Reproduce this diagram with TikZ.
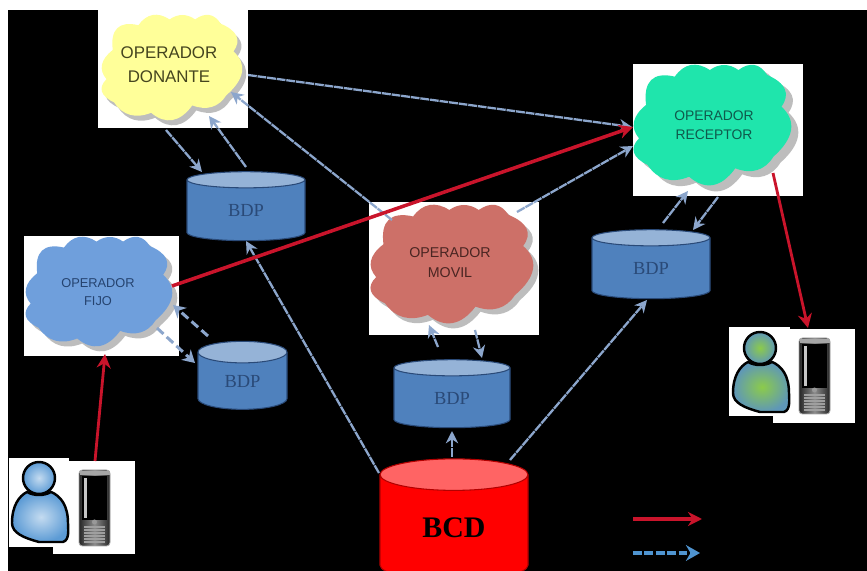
\documentclass[tikz,border=0pt]{standalone}
\usepackage{fontspec}
\setmainfont{Liberation Serif}
\newfontfamily\labelsans{Liberation Sans}
\usetikzlibrary{shapes.geometric,arrows.meta}
\definecolor{linkblue}{HTML}{8CA6CC}
\definecolor{legendblue}{HTML}{4F94D0}
\definecolor{redline}{HTML}{C9142B}
\definecolor{bdpbody}{HTML}{4F81BD}
\definecolor{bdptop}{HTML}{95B3D7}
\definecolor{bdpline}{HTML}{2A4A78}
\definecolor{bcdtop}{HTML}{FF6464}
\definecolor{cloudshade}{HTML}{BDBDBD}
\definecolor{cloudyellow}{HTML}{FFFF99}
\definecolor{cloudblue}{HTML}{6F9FDC}
\definecolor{cloudred}{HTML}{CD7068}
\definecolor{cloudgreen}{HTML}{1FE5AC}
\definecolor{txtyellow}{HTML}{45451F}
\definecolor{txtblue}{HTML}{25436F}
\definecolor{txtred}{HTML}{4A2522}
\definecolor{txtgreen}{HTML}{0F5A4C}
\definecolor{personmid}{HTML}{C4DBF0}
\definecolor{personedge}{HTML}{5C9BD5}
\definecolor{persongreen}{HTML}{8CCB4A}
\definecolor{personteal}{HTML}{5E97B8}
% #1 x, #2 y, #3 w, #4 h, #5 colour
\newcommand\cloudblob[5]{%
\begin{scope}[shift={(#1,#2)},x=#3*0.02cm,y=-#4*0.02cm]
\fill[#5] (.077,.333) .. controls (-.010,.423) and (-.026,.521) .. (.032,.611)
 .. controls (-.03,.694) and (-.01,.772) .. (.087,.833)
 .. controls (.148,.956) and (.24,.99) .. (.351,.931)
 .. controls (.454,1.047) and (.556,1.023) .. (.645,.861)
 .. controls (.748,.913) and (.834,.879) .. (.888,.764)
 .. controls (1.02,.611) and (1.038,.465) .. (.939,.347)
 .. controls (.998,.241) and (.966,.149) .. (.848,.083)
 .. controls (.802,-.014) and (.738,-.028) .. (.665,.042)
 .. controls (.606,-.014) and (.542,-.014) .. (.483,.042)
 .. controls (.397,-.033) and (.319,-.013) .. (.26,.097)
 .. controls (.122,.054) and (.058,.136) .. (.077,.333) -- cycle;
\end{scope}}
\tikzset{
  whitebox/.style={rectangle,fill=white,draw=none,inner sep=0pt},
  optext/.style={rectangle,inner sep=0pt,draw=none,align=center},
  dbcyl/.style={cylinder,shape border rotate=90,shape aspect=.45,inner sep=0pt,draw=bdpline,line width=.6pt,
     cylinder uses custom fill,cylinder body fill=bdpbody,cylinder end fill=bdptop,text=bdpline,font=\fontsize{10.5}{12}\selectfont},
  link/.style={draw=linkblue,line width=1.3pt,dash pattern=on 5pt off .5pt,-{Stealth[length=7pt,width=7pt]}},
  dashlink/.style={draw=linkblue,line width=1.7pt,dash pattern=on 5pt off 2.5pt,-{Stealth[length=7pt,width=8pt]}},
  redlink/.style={draw=redline,line width=1.6pt,-{Stealth[length=8pt,width=8pt]}},
  pics/person/.style 2 args={code={
    \draw[black,line width=1.4pt,inner color=#1,outer color=#2]
      (-12,14) .. controls (-20,18) and (-27,28) .. (-27,45)
      .. controls (-27,55) and (-15,60) .. (0,64) -- (24,64)
      .. controls (31,62) and (29,50) .. (29,45)
      .. controls (29,28) and (22,18) .. (12,14)
      .. controls (5,18) and (-5,18) .. (-12,14) -- cycle;
    \draw[black,line width=1.4pt,inner color=#1,outer color=#2] (0,0) circle[radius=16];
  }},
  pics/phone/.style={code={
    \draw[draw=gray!70,left color=black!85,right color=black!85,middle color=black!45,rounded corners=2pt,line width=.5pt] (0,0) rectangle (31,76);
    \fill[black] (3,6) rectangle (28,50);
    \fill[gray!70] (0.5,1) rectangle (30.5,5);
    \fill[gray!45] (5,8) rectangle (8,48);
    \fill[gray!80] (15.5,52) circle[radius=2.5];
    \foreach \ky in {57,60,63,66,69,72}{\draw[gray!75,line width=.7pt] (5,\ky) -- (26,\ky);}
  }}
}
\begin{document}
\begin{tikzpicture}[x=0.02cm,y=-0.02cm]
\useasboundingbox (0,0) rectangle (867,571);
\clip (0,0) rectangle (867,571);
\fill[white] (0,0) rectangle (867,571);
\fill[black] (8,10) rectangle (867,571);

% white boxes
\node[whitebox,minimum width=150*0.02cm,minimum height=118*0.02cm] (donbox) at (173,69) {};
\node[whitebox,minimum width=155*0.02cm,minimum height=120*0.02cm] (fijbox) at (101.5,296) {};
\node[whitebox,minimum width=170*0.02cm,minimum height=133*0.02cm] (movbox) at (454,268.5) {};
\node[whitebox,minimum width=170*0.02cm,minimum height=132*0.02cm] (recbox) at (718,130) {};
\node[whitebox,minimum width=60*0.02cm,minimum height=89*0.02cm] (ub1a) at (39,502.5) {};
\node[whitebox,minimum width=82*0.02cm,minimum height=93*0.02cm] (ub1) at (94,507.5) {};
\node[whitebox,minimum width=61*0.02cm,minimum height=89*0.02cm] (ub2a) at (759.5,371.5) {};
\node[whitebox,minimum width=82*0.02cm,minimum height=94*0.02cm] (ub2) at (814,376) {};

% clouds
\cloudblob{106}{20}{140}{105}{cloudshade}
\cloudblob{102}{15}{140}{105}{cloudyellow}
\cloudblob{31}{242}{146}{109}{cloudshade}
\cloudblob{26}{237}{146}{109}{cloudblue}
\cloudblob{376}{210}{162}{118}{cloudshade}
\cloudblob{371}{205}{162}{118}{cloudred}
\cloudblob{641}{71}{157}{120}{cloudshade}
\cloudblob{634}{65}{157}{120}{cloudgreen}
\node[optext,text=txtyellow,font=\labelsans\fontsize{9.6}{13.6}\selectfont] (don) at (169,65) {OPERADOR\\DONANTE};
\node[optext,text=txtblue,font=\labelsans\fontsize{7.3}{10.4}\selectfont] (fij) at (98,292) {OPERADOR\\FIJO};
\node[optext,text=txtred,font=\labelsans\fontsize{8.1}{11.3}\selectfont] (mov) at (450,263) {OPERADOR\\MOVIL};
\node[optext,text=txtgreen,font=\labelsans\fontsize{7.9}{11}\selectfont] (rec) at (714,125) {OPERADOR\\RECEPTOR};

% databases
\node[dbcyl,minimum width=118*0.02cm,minimum height=69*0.02cm] (bdp1) at (246,210.5) {BDP};
\node[dbcyl,minimum width=89*0.02cm,minimum height=68*0.02cm,shape aspect=.6] (bdp2) at (242.5,381) {BDP};
\node[dbcyl,minimum width=116*0.02cm,minimum height=68*0.02cm] (bdp3) at (452,398) {BDP};
\node[dbcyl,minimum width=118*0.02cm,minimum height=69*0.02cm] (bdp4) at (651,268.5) {BDP};
\node[dbcyl,draw=red!70!black,cylinder body fill=red,cylinder end fill=bcdtop,text=black,shape aspect=.5,minimum width=148*0.02cm,minimum height=122*0.02cm,font=\fontsize{17}{20}\selectfont] (bcd) at (454,528) {\textbf{BCD}};

% users
\pic at (39,478) {person={personmid}{personedge}};
\pic at (79,470) {phone};
\pic at (760,348) {person={persongreen}{personteal}};
\pic at (799,338) {phone};

% connectors
\draw[link] ([shift={(79,10)}]don.center) -- ([shift={(-82,2)}]rec.center);
\draw[link] ([shift={(-58,-43)}]mov.center) -- ([shift={(62,27)}]don.center);
\draw[link] ([shift={(67,-51)}]mov.center) -- ([shift={(-81,21)}]rec.center);
\draw[link] ([shift={(-3,65)}]don.center) -- ([shift={(-44,-38.5)}]bdp1.center);
\draw[link] ([shift={(0,-43.5)}]bdp1.center) -- ([shift={(40,51)}]don.center);
\draw[link] ([shift={(-75,-55)}]bcd.center) -- ([shift={(0,30.5)}]bdp1.center);
\draw[dashlink] ([shift={(-34.5,-45)}]bdp2.center) -- ([shift={(75,13)}]fij.center);
\draw[dashlink] ([shift={(59,36)}]fij.center) -- ([shift={(-47.5,-18)}]bdp2.center);
\draw[link] ([shift={(-14,-51)}]bdp3.center) -- ([shift={(-21,62)}]mov.center);
\draw[link] ([shift={(25,67)}]mov.center) -- ([shift={(30,-40)}]bdp3.center);
\draw[link] ([shift={(-2,-71)}]bcd.center) -- ([shift={(0,33)}]bdp3.center);
\draw[link] ([shift={(56,-68)}]bcd.center) -- ([shift={(-4,31.5)}]bdp4.center);
\draw[link] ([shift={(12,-45.5)}]bdp4.center) -- ([shift={(-26,66)}]rec.center);
\draw[link] ([shift={(4,72)}]rec.center) -- ([shift={(42,-38.5)}]bdp4.center);
\draw[redlink,line width=2pt] ([shift={(74,-6)}]fij.center) -- ([shift={(-81,2)}]rec.center);
\draw[redlink] ([shift={(1,-46.5)}]ub1.center) -- ([shift={(7,62)}]fij.center);
\draw[redlink] ([shift={(59,48)}]rec.center) -- ([shift={(-6,-48)}]ub2.center);

% legend
\coordinate (lega) at (633,519);
\coordinate (legb) at (702,519);
\coordinate (legc) at (633,553);
\coordinate (legd) at (700,553);
\draw[redlink,line width=2pt] (lega) -- (legb);
\draw[draw=legendblue,line width=1.9pt,dash pattern=on 5pt off 1.5pt,-{Stealth[length=8pt,width=9pt]}] (legc) -- (legd);
\end{tikzpicture}
\end{document}
